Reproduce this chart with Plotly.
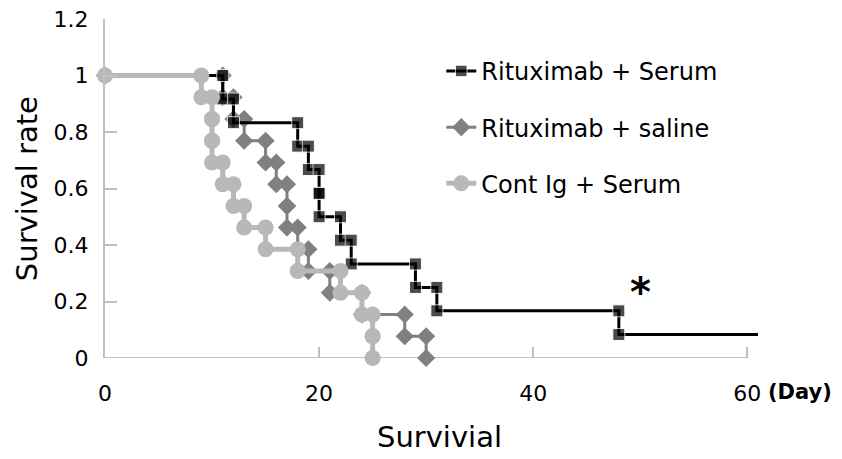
import plotly.graph_objects as go

# ---- data (Kaplan-Meier events: day of death, survival after that death) ----
serum_days = [11, 12, 18, 19, 20, 20, 22, 23, 29, 31, 48]
serum_surv = [0.917, 0.833, 0.750, 0.667, 0.583, 0.500, 0.417, 0.333, 0.250, 0.167, 0.083]
serum_last_day = 61

saline_days = [11, 12, 13, 15, 16, 17, 17, 18, 19, 21, 24, 28, 30]
saline_surv = [0.923, 0.846, 0.769, 0.692, 0.615, 0.538, 0.462, 0.385, 0.308, 0.231, 0.154, 0.077, 0.0]

contig_days = [9, 10, 10, 10, 11, 12, 13, 15, 18, 22, 24, 25, 25]
contig_surv = [0.923, 0.846, 0.769, 0.692, 0.615, 0.538, 0.462, 0.385, 0.308, 0.231, 0.154, 0.077, 0.0]

x_ticks = [0, 20, 40, 60]
y_ticks = [0, 0.2, 0.4, 0.6, 0.8, 1.0, 1.2]
y_tick_text = ["0", "0.2", "0.4", "0.6", "0.8", "1", "1.2"]

FONT = "DejaVu Sans"


def km_path(days, surv, start=1.0):
    xs, ys = [0], [start]
    prev = start
    for d, s in zip(days, surv):
        xs += [d, d]
        ys += [prev, s]
        prev = s
    return xs, ys


fig = go.Figure()

# diamonds (drawn at bottom)
sx, sy = km_path(saline_days, saline_surv)
fig.add_trace(go.Scatter(
    x=sx, y=sy, mode="lines+markers", name="Rituximab + saline",
    line=dict(color="#808080", width=3),
    marker=dict(symbol="diamond", size=14, color="#808080"),
    cliponaxis=False, legendrank=2, legendgroup="b"))

# black squares
bx, by = km_path(serum_days, serum_surv)
bx.append(serum_last_day)
by.append(serum_surv[-1])
bsize = [12] * (len(bx) - 1) + [0]
fig.add_trace(go.Scatter(
    x=bx, y=by, mode="lines+markers", name="Rituximab + Serum",
    line=dict(color="#000000", width=3),
    marker=dict(symbol="square", size=bsize, color="#000000"),
    cliponaxis=False, legendrank=1, legendgroup="a"))

# light grey circles (top)
cx, cy = km_path(contig_days, contig_surv)
fig.add_trace(go.Scatter(
    x=cx, y=cy, mode="lines+markers", name="Cont Ig + Serum",
    line=dict(color="#b8b8b8", width=5),
    marker=dict(symbol="circle", size=16, color="#b8b8b8"),
    cliponaxis=False, legendrank=3, legendgroup="c"))

axis_grey = "#c0c0c0"

fig.update_layout(
    width=842, height=459,
    # the page body adds an 8px offset; margins compensate for it
    margin=dict(l=97, r=92, t=11, b=109),
    paper_bgcolor="white", plot_bgcolor="white",
    font=dict(family=FONT, color="black"),
    showlegend=True,
    legend=dict(x=0.515, y=0.912, xanchor="left", yanchor="top",
                font=dict(size=24, family=FONT, color="black"),
                traceorder="grouped", tracegroupgap=22,
                bgcolor="rgba(0,0,0,0)"),
    xaxis=dict(range=[0, 61], tickvals=x_ticks, ticks="inside", ticklen=11,
               tickcolor=axis_grey, tickwidth=1.5, showline=False, showgrid=False,
               zeroline=False, tickfont=dict(size=22, family=FONT),
               ticklabelstandoff=20, automargin=False, ticklabeloverflow="allow"),
    yaxis=dict(range=[0, 1.2], tickvals=y_ticks, ticktext=y_tick_text,
               ticks="inside", ticklen=12, tickcolor=axis_grey, tickwidth=1.5,
               showline=True, linecolor=axis_grey, linewidth=2,
               showgrid=False, zeroline=False,
               tickfont=dict(size=22, family=FONT), ticklabelstandoff=10,
               automargin=False, ticklabeloverflow="allow"),
    shapes=[dict(type="line", xref="x", yref="y", x0=0, x1=60, y0=0, y1=0,
                 line=dict(color=axis_grey, width=2), layer="below")],
    annotations=[
        dict(text="<b>*</b>", x=50, y=0.232, xref="x", yref="y", showarrow=False,
             font=dict(size=40, family=FONT), xanchor="center", yanchor="middle"),
        dict(text="<b>(Day)</b>", x=1.064, y=-0.1, xref="paper", yref="paper",
             showarrow=False, font=dict(size=21, family=FONT),
             xanchor="center", yanchor="middle"),
        dict(text="Survivial", x=0.513, y=-0.233, xref="paper", yref="paper",
             showarrow=False, font=dict(size=29, family=FONT),
             xanchor="center", yanchor="middle"),
        dict(text="Survival rate", x=-0.12, y=0.5, xref="paper", yref="paper",
             showarrow=False, textangle=-90, font=dict(size=29, family=FONT),
             xanchor="center", yanchor="middle"),
    ],
)

fig.write_html("out.html")
